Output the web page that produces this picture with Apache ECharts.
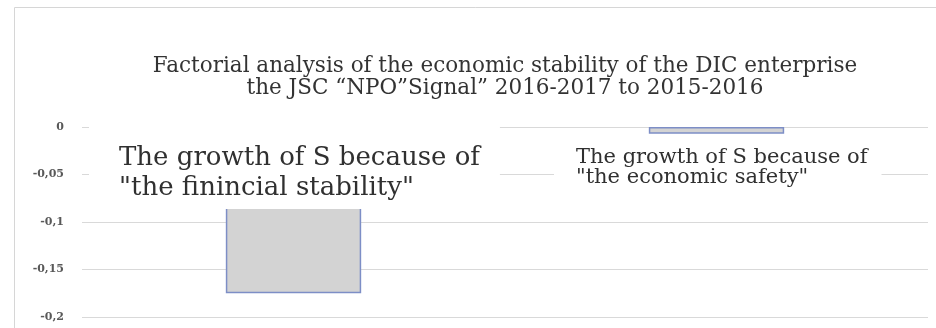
<!DOCTYPE html>
<html>
<head>
<meta charset="utf-8">
<script src="https://cdn.jsdelivr.net/npm/echarts@6/dist/echarts.min.js"></script>
<style>
  html, body { margin: 0; padding: 0; background: #fff; }
  #chart { width: 936px; height: 328px; }
</style>
</head>
<body>
<div id="chart"></div>
<script>
const titleLines = [
  'Factorial analysis of the economic stability of the DIC enterprise',
  'the JSC \u201CNPO\u201DSignal\u201D 2016-2017 to 2015-2016'
];
const categories = ['financial stability', 'economic safety'];
const labelLine1 = ['The growth of S because of', 'The growth of S because of'];
const labelLine2 = ['"the finincial stability"', '"the economic safety"'];
const values = [-0.175, -0.007];
const yMin = -0.2;
const yMax = 0;
const yStep = 0.05;

const chart = echarts.init(document.getElementById('chart'), null, { renderer: 'canvas' });

const labelStyles = [
  { fontSize: 26, lineHeight: 30, padding: [25, 20, 6, 30], offset: [-204.5, -9] },
  { fontSize: 21, lineHeight: 20, padding: [10, 14, 20, 22], offset: [-162.5, 11] }
];

const data = values.map((v, i) => ({
  value: v,
  label: {
    show: true,
    position: 'insideTop',
    distance: 0,
    align: 'left',
    verticalAlign: 'top',
    formatter: labelLine1[i] + '\n' + labelLine2[i],
    fontFamily: 'DejaVu Serif',
    fontSize: labelStyles[i].fontSize,
    lineHeight: labelStyles[i].lineHeight,
    color: '#303030',
    backgroundColor: '#ffffff',
    padding: labelStyles[i].padding,
    offset: labelStyles[i].offset
  }
}));

chart.setOption({
  animation: false,
  backgroundColor: '#ffffff',
  graphic: [{
    type: 'rect',
    silent: true,
    z: -10,
    shape: { x: 14.5, y: 7.5, width: 1000, height: 400 },
    style: { fill: 'none', stroke: '#d6d6d6', lineWidth: 1 }
  }, {
    type: 'text',
    silent: true,
    x: 505,
    y: 55,
    style: {
      text: titleLines.join('\n'),
      fontFamily: 'DejaVu Serif',
      fontSize: 21.5,
      lineHeight: 22,
      fill: '#333333',
      align: 'center',
      verticalAlign: 'top'
    }
  }],
  grid: { left: 82, right: 8, top: 127, bottom: 11, containLabel: false },
  xAxis: {
    type: 'category',
    data: categories,
    axisLine: { show: false },
    axisTick: { show: false },
    axisLabel: { show: false },
    splitLine: { show: false }
  },
  yAxis: {
    type: 'value',
    min: yMin,
    max: yMax,
    interval: yStep,
    axisLine: { show: false },
    axisTick: { show: false },
    axisLabel: {
      margin: 18,
      fontFamily: 'DejaVu Serif',
      fontSize: 11,
      fontWeight: 'bold',
      color: '#595959',
      formatter: v => String(Math.round(v * 100) / 100).replace('.', ',')
    },
    splitLine: { lineStyle: { color: '#d9d9d9', width: 1 } }
  },
  series: [{
    type: 'bar',
    data: data,
    barWidth: '32%',
    itemStyle: {
      color: '#d3d3d3',
      borderColor: '#7d8ec6',
      borderWidth: 1.5
    }
  }]
});
</script>
</body>
</html>
